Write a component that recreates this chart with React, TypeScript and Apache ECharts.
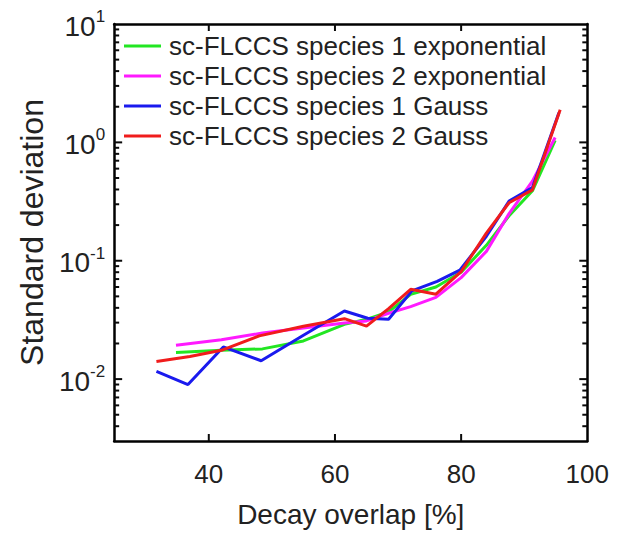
import React, { useEffect, useRef } from "react";
import * as echarts from "echarts";

const seriesNames = [
  "sc-FLCCS species 1 exponential",
  "sc-FLCCS species 2 exponential",
  "sc-FLCCS species 1 Gauss",
  "sc-FLCCS species 2 Gauss",
];
const seriesColors = ["#22e622", "#ff1aff", "#1a1aee", "#f01c1c"];

// [decay overlap %, standard deviation]
const green: [number, number][] = [
  [34.8, 0.0168], [42, 0.0175], [48.5, 0.018], [55, 0.021], [61.5, 0.029],
  [65, 0.032], [68.5, 0.037], [72, 0.052], [76, 0.06], [80, 0.08],
  [84, 0.135], [87.6, 0.24], [91.3, 0.39], [94.9, 1.04],
];
const magenta: [number, number][] = [
  [34.8, 0.0193], [42, 0.0215], [48.5, 0.0245], [55, 0.027], [61.5, 0.0298],
  [65, 0.031], [68.5, 0.036], [72, 0.041], [76, 0.049], [80, 0.072],
  [84, 0.12], [87.6, 0.25], [91.3, 0.47], [94.9, 1.1],
];
const blue: [number, number][] = [
  [31.7, 0.0116], [36.7, 0.009], [42.3, 0.0187], [48.3, 0.0143], [55, 0.0235],
  [61.5, 0.0376], [65.2, 0.0327], [68.5, 0.032], [72.2, 0.0556], [76.2, 0.067],
  [79.8, 0.0834], [84, 0.161], [87.6, 0.319], [91.3, 0.415], [95.5, 1.78],
];
const red: [number, number][] = [
  [31.7, 0.0141], [37, 0.0155], [42, 0.0175], [48, 0.0232], [55, 0.028],
  [61.5, 0.0324], [65, 0.028], [68.5, 0.0394], [72, 0.0574], [76, 0.0522],
  [80, 0.081], [84, 0.171], [87.6, 0.309], [91.3, 0.397], [95.7, 1.89],
];
const seriesData = [green, magenta, blue, red];

const xLabelValues = [40, 60, 80, 100];
const xTickValues = [40, 60, 80];
const yMajorTickValues = [0.01, 0.1, 1];
const yMinorTickValues = [
  0.004, 0.005, 0.006, 0.007, 0.008, 0.009,
  0.02, 0.03, 0.04, 0.05, 0.06, 0.07, 0.08, 0.09,
  0.2, 0.3, 0.4, 0.5, 0.6, 0.7, 0.8, 0.9,
  2, 3, 4, 5, 6, 7, 8, 9,
];
const yMin = 0.003;
const yMax = 10;
const xMin = 25;
const xMax = 100;

const FONT = "'Liberation Sans', Arial, sans-serif";

function tickSeries(name: string, data: number[][], dx: number, dy: number) {
  return {
    name,
    type: "custom",
    xAxisIndex: 0,
    yAxisIndex: 0,
    silent: true,
    clip: false,
    z: 10,
    data,
    renderItem: (_p: any, api: any) => {
      const p = api.coord([api.value(0), api.value(1)]);
      const w = dx !== 0 ? Math.abs(dx) : 2;
      const h = dy !== 0 ? Math.abs(dy) : 2;
      const x = dx < 0 ? p[0] + dx : dx > 0 ? p[0] : p[0] - 1;
      const y = dy < 0 ? p[1] + dy : dy > 0 ? p[1] : p[1] - 1;
      return {
        type: "rect",
        shape: { x, y, width: w, height: h },
        style: { fill: "#0a0a0a" },
      };
    },
  };
}

export default function App() {
  const ref = useRef<HTMLDivElement>(null);
  useEffect(() => {
    if (!ref.current) return;
    const chart = echarts.init(ref.current, null, { renderer: "svg" });
    const mkLine = () => ({ show: true, lineStyle: { color: "#000", width: 2.5 } });

    const option: any = {
      animation: false,
      backgroundColor: "#fff",
      textStyle: { fontFamily: FONT },
      grid: { left: 105, right: 21, top: 8, bottom: 84 },
      legend: {
        data: seriesNames,
        orient: "vertical",
        left: 111,
        top: 20,
        icon: "rect",
        itemWidth: 37,
        itemHeight: 3,
        itemGap: 4,
        textStyle: { fontFamily: FONT, fontSize: 26, color: "#222", lineHeight: 26, padding: [0, 0, 0, 3] },
      },
      xAxis: [
        {
          type: "value", min: xMin, max: xMax, position: "bottom",
          name: "Decay overlap [%]", nameLocation: "middle", nameGap: 59,
          nameTextStyle: { fontFamily: FONT, fontSize: 28, color: "#222" },
          axisLine: mkLine(), splitLine: { show: false },
          axisTick: { show: false },
          axisLabel: { show: true, fontFamily: FONT, fontSize: 26, color: "#222", margin: 20, customValues: xLabelValues },
        },
        {
          type: "value", min: xMin, max: xMax, position: "top",
          axisLine: mkLine(), splitLine: { show: false },
          axisTick: { show: false },
          axisLabel: { show: false },
        },
      ],
      yAxis: [
        {
          type: "log", logBase: 10, min: yMin, max: yMax, position: "left",
          name: "Standard deviation", nameLocation: "middle", nameGap: 66,
          nameTextStyle: { fontFamily: FONT, fontSize: 32, color: "#222" },
          axisLine: mkLine(), splitLine: { show: false },
          axisTick: { show: false },
          axisLabel: {
            show: true, margin: 9,
            formatter: (v: number) => {
              const l = Math.log10(v);
              const e = Math.round(l);
              if (Math.abs(l - e) > 1e-6) return "";
              return `{b|10}{s|${e}}`;
            },
            rich: {
              b: { fontFamily: FONT, fontSize: 28, color: "#222", lineHeight: 32, verticalAlign: "bottom" },
              s: { fontFamily: FONT, fontSize: 17, color: "#222", lineHeight: 17, verticalAlign: "top" },
            },
          },
        },
        {
          type: "log", logBase: 10, min: yMin, max: yMax, position: "right",
          axisLine: mkLine(), splitLine: { show: false },
          axisTick: { show: false },
          axisLabel: { show: false },
        },
      ],
      series: [
        ...seriesNames.map((name, i) => ({
          name, type: "line", xAxisIndex: 0, yAxisIndex: 0, data: seriesData[i],
          showSymbol: false, symbol: "none",
          lineStyle: { color: seriesColors[i], width: 3 }, itemStyle: { color: seriesColors[i] }, z: 3 + i,
        })),
        tickSeries("tl-major", yMajorTickValues.map((v) => [xMin, v]), 8, 0),
        tickSeries("tl-minor", yMinorTickValues.map((v) => [xMin, v]), 5, 0),
        tickSeries("tr-major", yMajorTickValues.map((v) => [xMax, v]), -8, 0),
        tickSeries("tr-minor", yMinorTickValues.map((v) => [xMax, v]), -5, 0),
        tickSeries("tb", xTickValues.map((v) => [v, yMin]), 0, -7),
        tickSeries("tt", xTickValues.map((v) => [v, yMax]), 0, 7),
      ],
    };
    chart.setOption(option);
    return () => chart.dispose();
  }, []);
  return <div ref={ref} style={{ width: 604, height: 525 }} />;
}
